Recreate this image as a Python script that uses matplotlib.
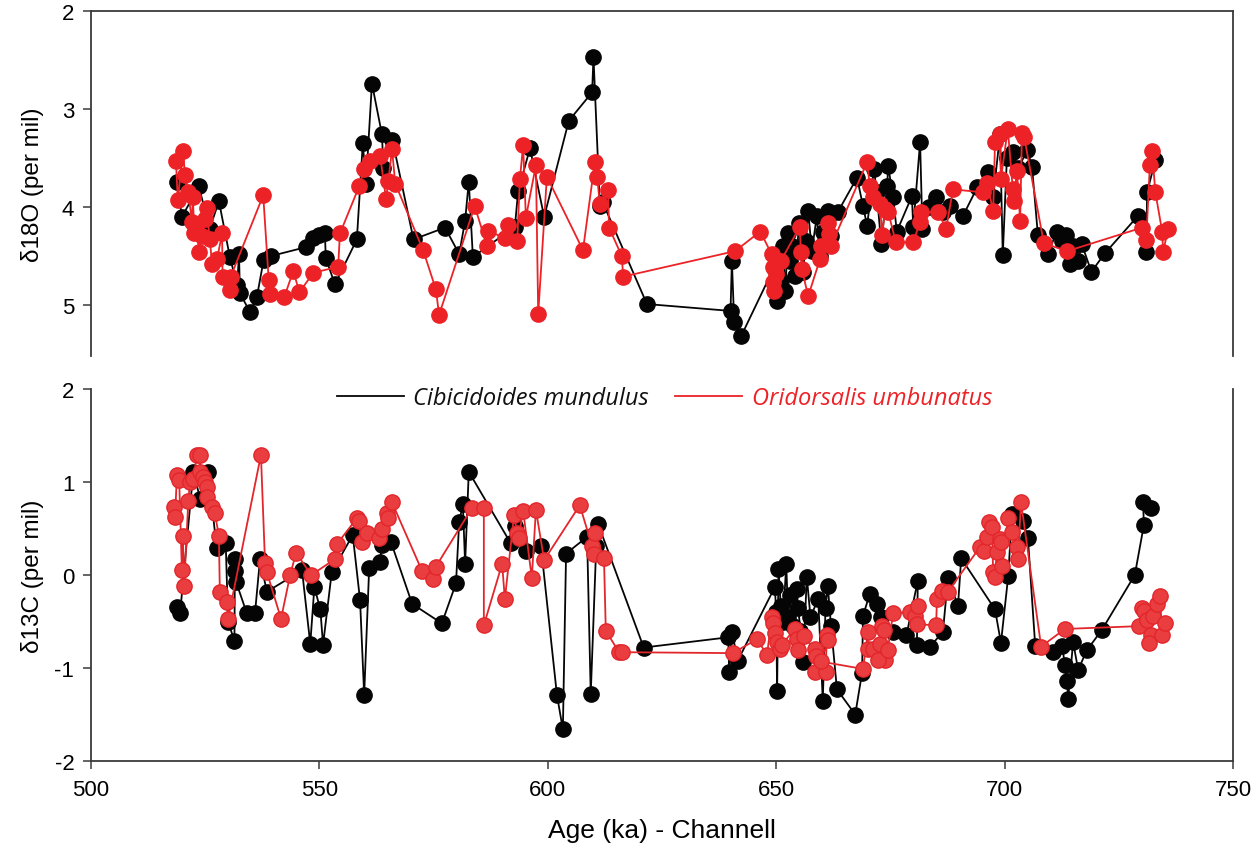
import matplotlib
matplotlib.use("Agg")
import matplotlib.pyplot as plt
from matplotlib.lines import Line2D

plt.rcParams['font.family'] = ['Liberation Sans', 'DejaVu Sans']
plt.rcParams['axes.unicode_minus'] = False

# ---------------- data ----------------
# Cibicidoides mundulus, d18O
cib_o_age = [518.8, 519.9, 523.6, 526.0, 528.0, 530.4, 532.0, 532.4, 532.6, 534.8,
             536.3, 537.8, 539.4, 547.0, 548.6, 550.0, 551.2, 551.4, 553.4, 558.2,
             559.5, 560.2, 561.5, 563.7, 564.0, 566.0, 570.6, 577.5, 580.6, 581.9,
             582.7, 583.6, 592.8, 593.5, 596.1, 599.2, 604.6, 609.7, 610.0, 611.4,
             612.0, 621.7, 640.0, 640.3, 640.8, 642.3, 649.5, 650.2, 650.6, 651.0,
             651.5, 652.0, 652.6, 653.0, 653.5, 654.2, 655.0, 655.9, 656.5, 657.0,
             657.8, 658.9, 659.5, 660.3, 661.3, 662.0, 663.5, 667.7, 669.0, 669.9,
             671.4, 672.0, 673.0, 674.3, 674.5, 675.6, 676.4, 679.7, 680.0, 681.5,
             682.0, 683.5, 685.0, 686.5, 688.0, 690.9, 694.0, 696.4, 697.5, 699.0,
             699.6, 700.5, 701.8, 703.0, 705.0, 706.0, 707.3, 709.5, 711.4, 712.5,
             713.4, 714.3, 715.0, 716.1, 716.9, 719.0, 722.0, 729.2, 731.0, 731.2,
             733.0]
cib_d18o = [3.74, 4.10, 3.79, 4.22, 3.94, 4.51, 4.80, 4.48, 4.88, 5.07,
            4.92, 4.54, 4.50, 4.41, 4.32, 4.29, 4.27, 4.52, 4.79, 4.33,
            3.35, 3.76, 2.74, 3.26, 3.60, 3.32, 4.33, 4.21, 4.48, 4.14,
            3.74, 4.51, 4.20, 3.84, 3.40, 4.10, 3.12, 2.83, 2.47, 3.99,
            3.95, 4.99, 5.06, 4.55, 5.17, 5.32, 4.62, 4.96, 4.50, 4.75,
            4.40, 4.86, 4.26, 4.55, 4.40, 4.70, 4.16, 4.66, 4.35, 4.04,
            4.45, 4.09, 4.50, 4.25, 4.04, 4.30, 4.05, 3.70, 3.99, 4.19,
            3.61, 3.85, 4.38, 3.79, 3.58, 3.90, 4.25, 3.89, 4.20, 3.34,
            4.22, 4.00, 3.90, 4.05, 3.99, 4.09, 3.80, 3.64, 3.90, 3.26,
            4.49, 3.50, 3.44, 3.60, 3.42, 3.59, 4.29, 4.48, 4.25, 4.35,
            4.29, 4.58, 4.40, 4.55, 4.38, 4.66, 4.47, 4.09, 4.46, 3.85,
            3.52]

# Oridorsalis umbunatus, d18O
ori_o_age = [518.6, 519.0, 520.1, 520.6, 521.3, 522.1, 522.3, 522.6, 523.0, 523.7,
             524.2, 525.0, 525.3, 526.0, 526.5, 527.6, 528.7, 528.8, 530.4, 530.6,
             537.7, 538.9, 539.2, 542.3, 544.3, 545.6, 548.7, 554.1, 554.5, 558.7,
             559.8, 561.1, 563.3, 564.6, 565.1, 565.9, 566.6, 572.7, 575.5, 576.2,
             584.0, 586.7, 586.9, 590.6, 591.3, 593.3, 593.9, 594.6, 595.2, 597.4,
             597.9, 599.8, 607.7, 610.3, 610.8, 611.4, 613.2, 613.4, 616.2, 616.5,
             641.0, 646.5, 649.0, 649.2, 649.4, 649.6, 650.0, 651.0, 655.2, 655.4,
             655.6, 657.0, 659.6, 659.8, 661.3, 661.6, 662.0, 669.9, 670.5, 671.2,
             672.7, 673.2, 673.8, 674.5, 676.2, 680.0, 681.5, 681.8, 685.4, 687.2,
             688.7, 695.3, 696.1, 697.5, 697.9, 699.0, 699.2, 700.7, 701.8, 702.0,
             702.7, 703.4, 703.8, 704.3, 708.6, 713.7, 730.1, 731.0, 731.8, 732.3,
             733.0, 734.5, 734.7, 735.8]
ori_d18o = [3.53, 3.93, 3.43, 3.67, 3.85, 4.15, 3.90, 4.26, 4.20, 4.46,
            4.30, 4.12, 4.01, 4.33, 4.58, 4.53, 4.27, 4.71, 4.85, 4.71,
            3.88, 4.74, 4.89, 4.92, 4.65, 4.87, 4.67, 4.61, 4.27, 3.79,
            3.61, 3.53, 3.48, 3.92, 3.73, 3.41, 3.76, 4.44, 4.84, 5.10,
            3.99, 4.40, 4.24, 4.32, 4.18, 4.35, 3.71, 3.37, 4.11, 3.57,
            5.09, 3.69, 4.44, 3.54, 3.69, 3.97, 3.83, 4.21, 4.50, 4.71,
            4.45, 4.25, 4.48, 4.61, 4.77, 4.86, 4.68, 4.55, 4.20, 4.46,
            4.63, 4.91, 4.53, 4.40, 4.16, 4.28, 4.40, 3.54, 3.79, 3.90,
            3.97, 4.29, 4.02, 4.05, 4.36, 4.36, 4.15, 4.05, 4.05, 4.22,
            3.82, 3.85, 3.75, 4.04, 3.34, 3.26, 3.71, 3.20, 3.82, 3.94,
            3.63, 4.14, 3.24, 3.29, 4.37, 4.45, 4.21, 4.34, 3.57, 3.43,
            3.85, 4.25, 4.46, 4.22]

# Cibicidoides mundulus, d13C
cib_c_age = [518.8, 519.5, 522.4, 523.9, 525.7, 527.5, 529.5, 530.0, 531.4, 531.5,
             531.6, 531.8, 534.1, 535.9, 537.0, 538.5, 546.2, 548.0, 548.9, 550.2,
             550.8, 552.7, 557.3, 558.9, 559.8, 560.9, 563.3, 563.6, 565.7, 570.3,
             576.8, 579.9, 580.6, 581.4, 581.9, 582.7, 591.9, 592.8, 595.2, 598.5,
             602.0, 603.3, 604.0, 608.6, 609.4, 610.6, 611.0, 621.0, 639.5, 639.7,
             640.3, 641.6, 649.7, 650.0, 650.2, 650.5, 651.0, 651.5, 652.2, 652.6,
             653.0, 653.6, 654.5, 654.8, 655.3, 655.9, 656.7, 657.5, 659.2, 660.2,
             660.8, 661.3, 662.0, 663.3, 667.3, 668.8, 669.0, 670.5, 672.0, 673.0,
             675.6, 678.5, 681.0, 680.8, 683.7, 686.5, 687.6, 689.8, 690.5, 697.9,
             699.2, 700.8, 701.6, 704.0, 705.1, 706.7, 710.6, 712.6, 713.2, 713.7,
             713.9, 715.0, 716.1, 718.0, 721.3, 728.5, 730.5, 730.3, 732.0]
cib_d13c = [-0.34, -0.41, 1.11, 0.82, 1.11, 0.29, 0.34, -0.50, -0.71, 0.17,
            0.04, -0.08, -0.41, -0.41, 0.17, -0.18, 0.05, -0.74, -0.13, -0.37,
            -0.75, 0.03, 0.43, -0.27, -1.29, 0.08, 0.14, 0.32, 0.35, -0.31,
            -0.52, -0.09, 0.57, 0.76, 0.12, 1.11, 0.34, 0.53, 0.26, 0.31,
            -1.29, -1.66, 0.23, 0.41, -1.28, 0.31, 0.55, -0.78, -0.67, -1.04,
            -0.61, -0.92, -0.13, -0.40, -1.25, 0.06, -0.33, -0.50, 0.12, -0.45,
            -0.22, -0.55, -0.15, -0.35, -0.60, -0.94, -0.02, -0.45, -0.26, -1.35,
            -0.35, -0.12, -0.55, -1.23, -1.50, -1.05, -0.44, -0.20, -0.31, -0.45,
            -0.61, -0.65, -0.06, -0.75, -0.77, -0.61, -0.03, -0.33, 0.18, -0.37,
            -0.73, -0.01, 0.66, 0.58, 0.40, -0.76, -0.83, -0.76, -0.97, -1.14,
            -1.33, -0.72, -1.02, -0.81, -0.59, 0.00, 0.54, 0.79, 0.72]

# Oridorsalis umbunatus, d13C
ori_c_age = [518.2, 518.4, 518.8, 519.3, 519.9, 520.1, 520.4, 521.3, 521.7, 522.4,
             523.2, 523.9, 523.9, 524.6, 525.0, 525.3, 525.3, 526.5, 527.1, 528.0,
             528.2, 529.8, 530.0, 537.2, 538.1, 538.5, 541.6, 543.6, 544.9, 548.2,
             553.4, 553.8, 558.2, 558.7, 559.3, 560.4, 563.1, 563.8, 564.7, 565.0,
             565.9, 572.5, 574.9, 575.5, 583.4, 586.0, 586.0, 590.0, 590.6, 592.6,
             593.3, 593.6, 594.6, 596.5, 597.4, 599.2, 607.0, 609.7, 610.1, 610.3,
             612.3, 612.7, 615.6, 616.2, 640.5, 645.8, 648.0, 649.0, 649.4, 649.8,
             650.2, 650.8, 651.2, 654.1, 654.5, 654.8, 656.0, 658.5, 658.8, 658.5,
             660.8, 661.1, 661.4, 659.7, 669.0, 670.1, 670.0, 671.2, 672.7, 673.2,
             673.5, 673.8, 672.2, 674.4, 675.6, 679.3, 680.3, 681.0, 680.8, 685.0,
             685.2, 686.3, 687.6, 694.6, 695.5, 696.1, 696.6, 697.2, 697.5, 697.9,
             698.3, 698.9, 699.3, 699.5, 700.8, 701.6, 702.7, 702.9, 703.6, 708.0,
             713.2, 729.5, 730.1, 730.5, 731.2, 732.0, 731.6, 732.5, 733.4, 734.0,
             734.5, 735.1]
ori_d13c = [0.73, 0.62, 1.07, 1.02, 0.05, 0.42, -0.12, 0.80, 1.00, 1.03,
            1.29, 1.29, 1.11, 1.05, 1.00, 0.95, 0.84, 0.73, 0.67, 0.42,
            -0.18, -0.29, -0.47, 1.29, 0.13, 0.03, -0.47, 0.00, 0.24, 0.00,
            0.17, 0.33, 0.61, 0.58, 0.35, 0.45, 0.40, 0.49, 0.67, 0.61,
            0.78, 0.04, -0.04, 0.09, 0.72, 0.72, -0.54, 0.12, -0.26, 0.64,
            0.45, 0.40, 0.69, -0.03, 0.70, 0.16, 0.75, 0.31, 0.23, 0.45,
            0.18, -0.60, -0.83, -0.83, -0.84, -0.69, -0.86, -0.45, -0.52, -0.62,
            -0.72, -0.80, -0.75, -0.58, -0.69, -0.81, -0.66, -0.80, -0.87, -1.04,
            -1.04, -0.65, -0.70, -0.93, -1.01, -0.61, -0.80, -0.80, -0.74, -0.55,
            -0.59, -0.91, -0.91, -0.81, -0.41, -0.40, -0.44, -0.33, -0.53, -0.54,
            -0.26, -0.17, -0.18, 0.30, 0.26, 0.41, 0.57, 0.52, 0.03, -0.02,
            0.25, 0.39, 0.35, 0.10, 0.61, 0.46, 0.30, 0.17, 0.78, -0.77,
            -0.58, -0.55, -0.35, -0.39, -0.48, -0.65, -0.73, -0.44, -0.31, -0.23,
            -0.65, -0.52]

species = ["Cibicidoides mundulus", "Oridorsalis umbunatus"]
x_ticks = [500, 550, 600, 650, 700, 750]
o_ticks = [2, 3, 4, 5]
c_ticks = [-2, -1, 0, 1, 2]

# ---------------- figure ----------------
W, H = 1259, 854
fig = plt.figure(figsize=(W / 100, H / 100), dpi=100)

L, R = 91 / W, 1233 / W
ax1 = fig.add_axes([L, 1 - 357 / H, R - L, (357 - 12) / H])
ax2 = fig.add_axes([L, 1 - 762 / H, R - L, (762 - 390) / H])

black = '#050505'
red_top = '#ec2227'
red_fill = '#ea3d3f'
red_edge = '#e2262b'
spine_col = '#3a3a3a'
ms = 11

ax1.plot(cib_o_age, cib_d18o, '-', color=black, lw=1.3, marker='o', ms=ms,
         mfc=black, mec=black, zorder=3)
ax1.plot(ori_o_age, ori_d18o, '-', color=red_top, lw=1.3, marker='o', ms=ms,
         mfc=red_top, mec=red_top, zorder=4)

ax2.plot(cib_c_age, cib_d13c, '-', color=black, lw=1.3, marker='o', ms=ms,
         mfc=black, mec=black, zorder=3)
ax2.plot(ori_c_age, ori_d13c, '-', color=red_edge, lw=1.3, marker='o', ms=ms,
         mfc=red_fill, mec=red_edge, mew=1.0, zorder=4)

for ax in (ax1, ax2):
    ax.set_xlim(500, 750)
    for s in ax.spines.values():
        s.set_color(spine_col)
        s.set_linewidth(1.3)
    ax.tick_params(axis='y', direction='out', length=6, width=1.1,
                   color=spine_col, labelsize=16, pad=6)

ax1.set_ylim(5.52, 2.0)
ax1.set_yticks(o_ticks)
ax1.spines['bottom'].set_visible(False)
ax1.tick_params(axis='x', bottom=False, labelbottom=False)
ax1.set_xticks(x_ticks)
ax1.set_ylabel("δ18O (per mil)", fontsize=17.5)
ax1.yaxis.set_label_coords(-0.041, 0.5)

ax2.set_ylim(-2, 2)
ax2.set_yticks(c_ticks)
ax2.spines['top'].set_visible(False)
ax2.set_xticks(x_ticks)
ax2.tick_params(axis='x', direction='out', length=6, width=1.1,
                color=spine_col, labelsize=16, pad=7)
ax2.set_ylabel("δ13C (per mil)", fontsize=17.5)
ax2.yaxis.set_label_coords(-0.041, 0.5)
ax2.set_xlabel("Age (ka) - Channell", fontsize=19)
ax2.xaxis.set_label_coords(0.5, -0.152)

handles = [Line2D([], [], color=black, lw=1.3),
           Line2D([], [], color=red_top, lw=1.3)]
leg = ax2.legend(handles, species, loc='center', bbox_to_anchor=(0.502, 0.976),
                 ncol=2, frameon=False, handlelength=2.85, handletextpad=0.4,
                 columnspacing=1.1, borderaxespad=0,
                 prop={'family': ['Open Sans', 'DejaVu Sans'], 'style': 'italic', 'size': 17})
leg.get_texts()[0].set_color('#111111')
leg.get_texts()[1].set_color(red_top)

fig.savefig("out.png", dpi=100, facecolor='white')
